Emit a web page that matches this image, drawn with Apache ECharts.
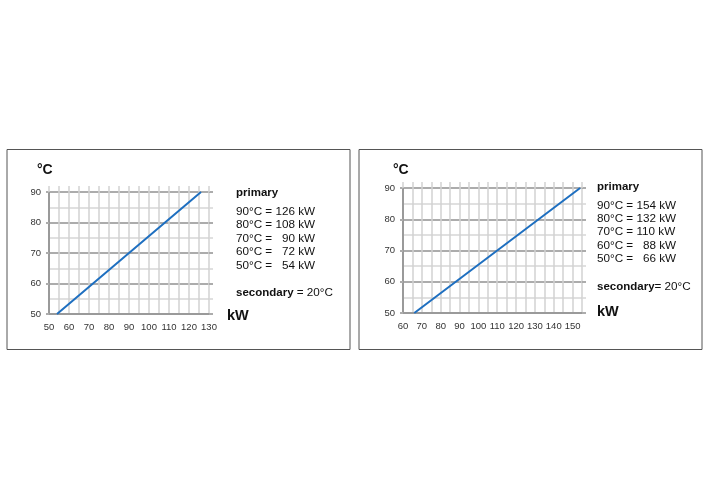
<!DOCTYPE html>
<html>
<head>
<meta charset="utf-8">
<script src="https://cdn.jsdelivr.net/npm/echarts@6/dist/echarts.min.js"></script>
<style>html,body{margin:0;padding:0;background:#fff}#c{width:709px;height:500px}</style>
</head>
<body>
<div id="c"></div>
<script>
// Data
const temps = [50, 60, 70, 80, 90];
const powerA = [54, 72, 90, 108, 126];
const powerB = [66, 88, 110, 132, 154];
const secondaryTemp = 20;
const xRangeA = [50, 130];
const xRangeB = [60, 155];
const yRange = [50, 90];

const FONT = '"Liberation Sans", Arial, sans-serif';
const TICKFONT = '"Liberation Sans Narrow", "Liberation Sans", Arial, sans-serif';
const VCOL = '#d2d2d2', HMAJ = '#acacac', HMIN = '#d6d6d6', AXC = '#9a9a9a', LINEC = '#1e6fc0';

function xBottom(grid, r) {
  return {
    type: 'value', gridIndex: grid, position: 'bottom', min: r[0], max: r[1], interval: 5,
    axisLine: { show: true, lineStyle: { color: AXC, width: 2 } },
    axisTick: { show: false },
    axisLabel: { margin: 8, fontSize: 9.5, color: '#333', fontFamily: TICKFONT,
      formatter: v => (v % 10 === 0 ? String(v) : '') },
    splitLine: { show: true, lineStyle: { color: VCOL, width: 1.5 } }
  };
}
function xTop(grid, r) {
  return {
    type: 'value', gridIndex: grid, position: 'top', min: r[0], max: r[1], interval: 5,
    axisLine: { show: false },
    axisTick: { show: true, inside: false, length: 6, lineStyle: { color: VCOL, width: 1.5 } },
    axisLabel: { show: false }, splitLine: { show: false }
  };
}
function yLeft(grid) {
  return {
    type: 'value', gridIndex: grid, position: 'left', min: yRange[0], max: yRange[1], interval: 10,
    axisLine: { show: true, lineStyle: { color: AXC, width: 2 } },
    axisTick: { show: true, inside: false, length: 3, lineStyle: { color: HMAJ, width: 2 } },
    minorTick: { show: false, splitNumber: 2 },
    axisLabel: { margin: 8, fontSize: 9.5, color: '#333', fontFamily: TICKFONT },
    splitLine: { show: true, lineStyle: { color: HMAJ, width: 2 } },
    minorSplitLine: { show: true, lineStyle: { color: HMIN, width: 1.5 } }
  };
}
function yRight(grid) {
  return {
    type: 'value', gridIndex: grid, position: 'right', min: yRange[0], max: yRange[1], interval: 10,
    axisLine: { show: false },
    axisTick: { show: true, inside: false, length: 4, lineStyle: { color: HMAJ, width: 2 } },
    minorTick: { show: true, splitNumber: 2, length: 4, lineStyle: { color: HMIN, width: 1.5 } },
    axisLabel: { show: false }, splitLine: { show: false }, minorSplitLine: { show: false }
  };
}

function legendTexts(x, y0, dy, powers, secY, kwY, degX, gapEq) {
  const els = [];
  els.push({ type: 'text', x: 0, y: 0, style: { x: degX, y: 170, text: '°C', font: 'bold 14px ' + FONT, fill: '#111', textVerticalAlign: 'middle' } });
  els.push({ type: 'text', style: { x: x, y: y0 - 18.5, text: 'primary', font: 'bold 11.5px ' + FONT, fill: '#111', textVerticalAlign: 'middle' } });
  for (let i = 0; i < temps.length; i++) {
    const k = temps.length - 1 - i;
    const p = String(powers[k]);
    const pad = '  '.repeat(3 - p.length);
    els.push({ type: 'text', style: { x: x, y: y0 + i * dy, text: temps[k] + '°C = ' + pad + p + ' kW', font: '11.7px ' + FONT, fill: '#111', textVerticalAlign: 'middle' } });
  }
  els.push({ type: 'text', style: { x: x, y: secY, text: '{b|secondary}' + (gapEq ? ' ' : '') + '= ' + secondaryTemp + '°C',
    font: '11.7px ' + FONT, fill: '#111', textVerticalAlign: 'middle',
    rich: { b: { fontWeight: 'bold', fontSize: 11.5, fontFamily: FONT, fill: '#111' } } } });
  els.push({ type: 'text', style: { x: kwY[0], y: kwY[1], text: 'kW', font: 'bold 14.5px ' + FONT, fill: '#111', textVerticalAlign: 'middle' } });
  return els;
}

const chart = echarts.init(document.getElementById('c'), null, { renderer: 'canvas' });
chart.setOption({
  animation: false,
  backgroundColor: '#fff',
  grid: [
    { left: 49, top: 192, width: 160, height: 122 },
    { left: 403, top: 188, width: 179, height: 125 }
  ],
  xAxis: [xBottom(0, xRangeA), xTop(0, xRangeA), xBottom(1, xRangeB), xTop(1, xRangeB)],
  yAxis: [yLeft(0), yRight(0), yLeft(1), yRight(1)],
  series: [
    { type: 'line', xAxisIndex: 0, yAxisIndex: 0, showSymbol: false, symbol: 'none',
      data: powerA.map((p, i) => [p, temps[i]]), lineStyle: { color: LINEC, width: 2 }, z: 5 },
    { type: 'line', xAxisIndex: 2, yAxisIndex: 2, showSymbol: false, symbol: 'none',
      data: powerB.map((p, i) => [p, temps[i]]), lineStyle: { color: LINEC, width: 2 }, z: 5 }
  ],
  graphic: [
    { type: 'rect', shape: { x: 7, y: 149.5, width: 343, height: 200 }, style: { fill: 'none', stroke: '#555', lineWidth: 1 } },
    { type: 'rect', shape: { x: 359, y: 149.5, width: 343, height: 200 }, style: { fill: 'none', stroke: '#555', lineWidth: 1 } }
  ].concat(
    legendTexts(236, 211.7, 13.4, powerA, 292.7, [227, 316], 37, true),
    legendTexts(597, 205.3, 13.4, powerB, 286.7, [597, 311.7], 393, false)
  )
});
</script>
</body>
</html>
